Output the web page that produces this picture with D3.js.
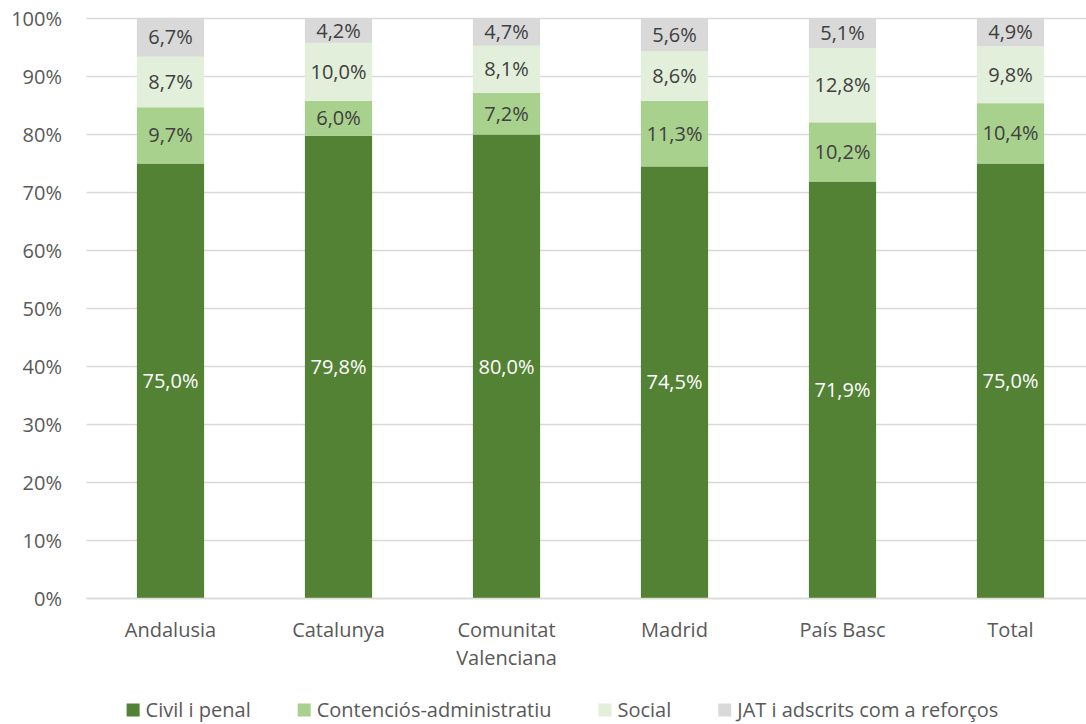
<!DOCTYPE html>
<html>
<head>
<meta charset="utf-8">
<script src="https://cdn.jsdelivr.net/npm/d3@7"></script>
<style>
  body { margin: 0; background: #fff; }
  svg { display: block; font-family: "Open Sans", Lato, sans-serif; }
</style>
</head>
<body>
<svg id="chart" width="1086" height="724"></svg>
<script>
const categories = ["Andalusia", "Catalunya", "Comunitat Valenciana", "Madrid", "País Basc", "Total"];
const seriesNames = ["Civil i penal", "Contenciós-administratiu", "Social", "JAT i adscrits com a reforços"];
const civil = [75.0, 79.8, 80.0, 74.5, 71.9, 75.0];
const contencios = [9.7, 6.0, 7.2, 11.3, 10.2, 10.4];
const social = [8.7, 10.0, 8.1, 8.6, 12.8, 9.8];
const jat = [6.7, 4.2, 4.7, 5.6, 5.1, 4.9];
const yTicks = [0, 10, 20, 30, 40, 50, 60, 70, 80, 90, 100];
const colors = ["#548235", "#A9D18E", "#E2EFDA", "#D9D9D9"];
const labelColors = ["#ffffff", "#404040", "#404040", "#404040"];

const seriesValues = [civil, contencios, social, jat];
const rows = categories.map((c, i) => {
  const r = { cat: c };
  seriesNames.forEach((s, j) => r[s] = seriesValues[j][i]);
  return r;
});

const FS = 20;
const svg = d3.select("#chart");
const mLeft = 86.5, mRight = 1094.5, mTop = 18.5, mBottom = 598.5;

const x = d3.scaleBand().domain(categories).range([mLeft, mRight]).paddingInner(0.6).paddingOuter(0.3);
const y = d3.scaleLinear().domain([0, 100]).range([mBottom, mTop]);

// gridlines
svg.append("g").selectAll("line").data(yTicks).join("line")
  .attr("x1", mLeft).attr("x2", 1086)
  .attr("y1", d => y(d)).attr("y2", d => y(d))
  .attr("stroke", "#D9D9D9").attr("stroke-width", 1.5);

// y labels
svg.append("g").selectAll("text").data(yTicks).join("text")
  .attr("x", 62).attr("y", d => y(d)).attr("dy", "0.35em")
  .attr("text-anchor", "end").attr("fill", "#595959").attr("font-size", FS)
  .text(d => d + "%");

const stack = d3.stack().keys(seriesNames);
const stacked = stack(rows);

const g = svg.append("g");
stacked.forEach((layer, li) => {
  g.append("g").selectAll("rect").data(layer).join("rect")
    .attr("x", d => x(d.data.cat))
    .attr("width", x.bandwidth())
    .attr("y", d => y(d[1]))
    .attr("height", d => y(d[0]) - y(d[1]))
    .attr("fill", colors[li]);
});
stacked.forEach((layer, li) => {
  g.append("g").selectAll("text").data(layer).join("text")
    .attr("x", d => x(d.data.cat) + x.bandwidth() / 2)
    .attr("y", d => (y(d[0]) + y(d[1])) / 2)
    .attr("dy", "0.35em")
    .attr("text-anchor", "middle")
    .attr("fill", labelColors[li])
    .attr("font-size", FS)
    .text(d => d3.format(".1f")(d[1] - d[0]).replace(".", ",") + "%");
});

// baseline
svg.append("line").attr("x1", mLeft).attr("x2", 1086).attr("y1", mBottom).attr("y2", mBottom)
  .attr("stroke", "#D9D9D9").attr("stroke-width", 1.5);

// x labels
const xl = svg.append("g").selectAll("text").data(categories).join("text")
  .attr("y", 630)
  .attr("text-anchor", "middle").attr("fill", "#595959").attr("font-size", FS);
xl.each(function(d) {
  const t = d3.select(this);
  const words = d === "Comunitat Valenciana" ? ["Comunitat", "Valenciana"] : [d];
  words.forEach((w, i) => {
    t.append("tspan").attr("x", x(d) + x.bandwidth() / 2).attr("dy", i === 0 ? "0.35em" : 28).text(w);
  });
});

// legend
const lg = svg.append("g");
const GAP = 47;
let cx = 0;
seriesNames.forEach((s, i) => {
  const it = lg.append("g");
  it.append("rect").attr("x", 0).attr("y", -6.5).attr("width", 13).attr("height", 13).attr("fill", colors[i]);
  const t = it.append("text").attr("x", 19).attr("y", 0).attr("dy", "0.35em")
    .attr("fill", "#595959").attr("font-size", FS).text(s);
  const w = 19 + t.node().getComputedTextLength();
  it.attr("transform", `translate(${cx},0)`);
  cx += w + GAP;
});
const totalW = cx - GAP;
lg.attr("transform", `translate(${(123 + 1002) / 2 - totalW / 2}, 710)`);
</script>
</body>
</html>
